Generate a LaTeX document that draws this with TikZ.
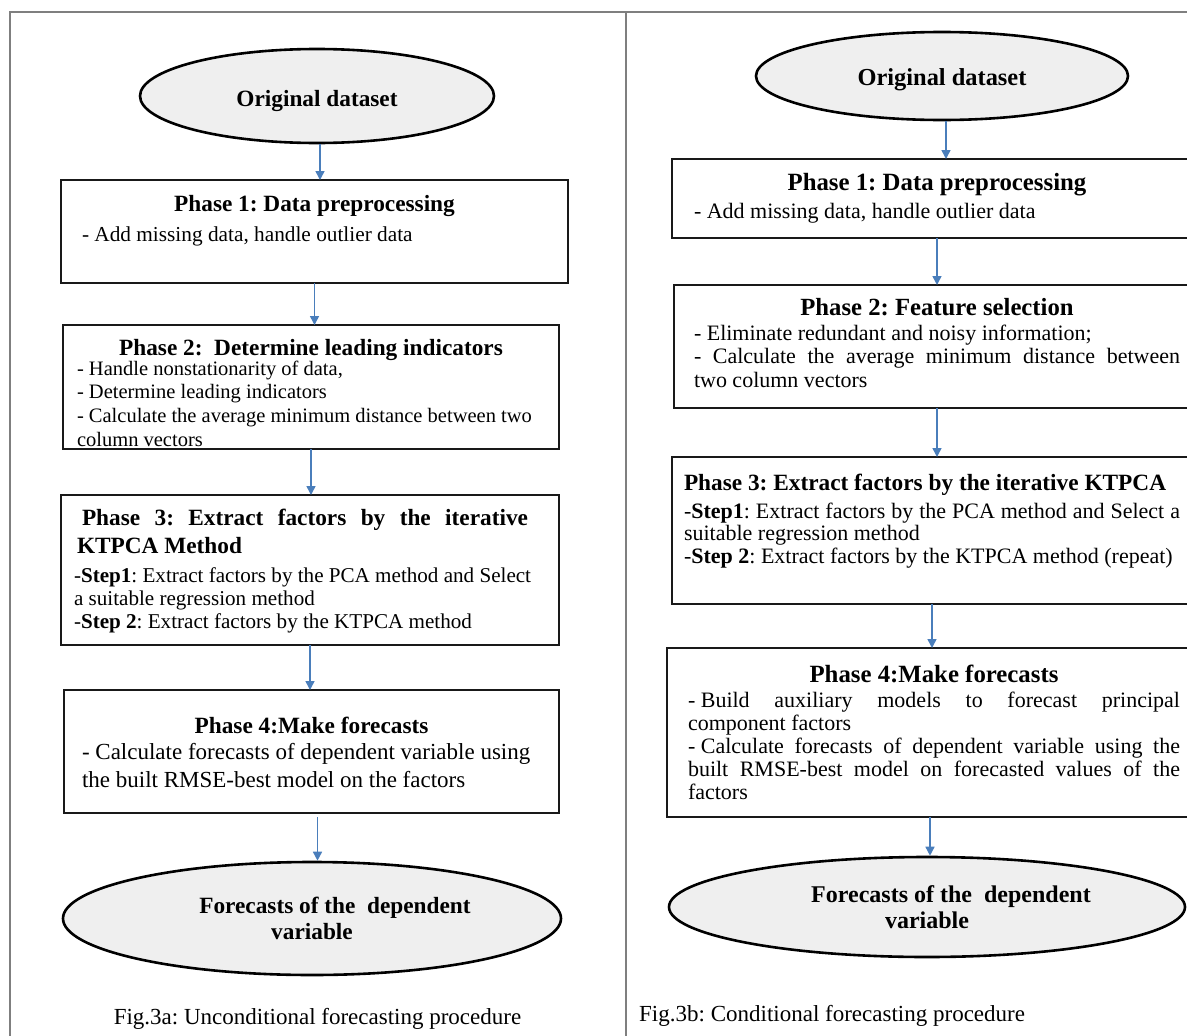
\documentclass[tikz,border=0pt]{standalone}
\usepackage{fontspec}
\setmainfont{Liberation Serif}
\frenchspacing
\usetikzlibrary{shapes.geometric,arrows.meta}
\definecolor{arrblue}{HTML}{4A7EBB}
\definecolor{framegray}{HTML}{7F7F7F}
\definecolor{ellfill}{HTML}{EFEFEF}
\newcommand\bxx[7]{\node[boxst,inner xsep=#6pt] (#1) at (#2,#3) {\begin{minipage}[t][#5pt][t]{\dimexpr#4pt-#6pt-#6pt\relax}\frenchspacing\setlength\parindent{0pt}\setlength\parskip{0pt}#7\end{minipage}};}
\newcommand\tfnt[1]{\fontsize{#1}{28}\selectfont\bfseries}
\newcommand\bfnt[2]{\fontsize{#1}{#2}\selectfont}
\tikzset{
  boxst/.style={draw=black!90, line width=2.4pt, inner ysep=0pt, anchor=north west, outer sep=0pt},
  ellst/.style={ellipse, draw=black, line width=2.6pt, fill=ellfill, inner sep=0pt, align=center},
  arr/.style={draw=arrblue, line width=1.5pt, -{Triangle[length=9pt,width=9pt]}},
  framest/.style={draw=framegray, line width=2pt},
  capst/.style={inner sep=0pt, font=\fontsize{23}{27}\selectfont}
}
\begin{document}
\begin{tikzpicture}[x=1pt,y=-1pt]
\useasboundingbox (0,0) rectangle (1187,1036);
\fill[white] (0,0) rectangle (1187,1036);
\begin{scope}
\clip (0,0) rectangle (1187,1036);
\draw[framest] (10,1045) -- (10,12) -- (1195,12);
\draw[framest] (626,12) -- (626,1045);

% ---------------- left panel ----------------
\node[ellst, minimum width=354pt, minimum height=94pt, font=\fontsize{23.3}{28}\selectfont\bfseries] (LE1) at (317,96) {\raisebox{-10pt}[0pt][0pt]{Original dataset}};

\bxx{L1}{61}{180}{507}{103}{21}{%
{\centering\tfnt{23.3}\rule{0pt}{31pt}Phase 1: Data preprocessing\par}
\vspace{6pt}
{\raggedright\bfnt{21.3}{24}- Add missing data, handle outlier data\par}}

\bxx{L2}{63}{325}{496}{124}{14}{%
{\centering\tfnt{23.3}\rule{0pt}{30pt}Phase 2:\ \ Determine leading indicators\par}
\vspace{-3.7pt}
{\raggedright\bfnt{20.5}{23.7}- Handle nonstationarity of data,\\- Determine leading indicators\\- Calculate the average minimum distance between two\\column vectors\par}}

\bxx{L3}{61}{495}{498}{150}{13}{%
{\tfnt{23.3}\rule{0pt}{30pt}\hspace*{8pt}\makebox[446pt][s]{Phase 3: Extract factors by the iterative}\par
\hspace*{3pt}KTPCA Method\par}
\vspace{6pt}
{\raggedright\bfnt{21.1}{23}-\textbf{Step1}: Extract factors by the PCA method and Select\\a suitable regression method\\-\textbf{Step 2}: Extract factors by the KTPCA method\par}}

\bxx{L4}{64}{690}{495}{123}{18}{%
{\centering\tfnt{23.3}\rule{0pt}{43pt}Phase 4:Make forecasts\par}
\vspace{-2pt}
{\raggedright\bfnt{23}{28}- Calculate forecasts of dependent variable using\\the built RMSE-best model on the factors\par}}

\node[ellst, minimum width=498pt, minimum height=113pt, font=\fontsize{23.3}{26}\selectfont\bfseries] (LE2) at (312,918.5) {\hspace*{46pt}Forecasts of the\ \ dependent\\variable};

\draw[arr] ([xshift=3pt]LE1.south) -- ([xshift=3pt]LE1.south |- L1.north);
\draw[arr] (L1.south) -- (L1.south |- L2.north);
\draw[arr] (L2.south) -- (L2.south |- L3.north);
\draw[arr] (L3.south) -- (L3.south |- L4.north);
\draw[arr] ([xshift=6pt,yshift=-4pt]L4.south) -- ([xshift=6pt]L4.south |- LE2.north);

\node[capst, anchor=base] (capL) at (317.5,1024) {Fig.3a: Unconditional forecasting procedure};

% ---------------- right panel ----------------
\node[ellst, minimum width=372pt, minimum height=88pt, font=\fontsize{24.4}{28}\selectfont\bfseries] (RE1) at (942,76) {\raisebox{-9pt}[0pt][0pt]{Original dataset}};

\bxx{R1}{672}{159}{530}{79}{22}{%
{\centering\tfnt{24.8}\rule{0pt}{31pt}Phase 1: Data preprocessing\par}
\vspace{4.6pt}
{\bfnt{22}{23.4}- Add missing data, handle outlier data\par}}

\bxx{R2}{674}{285}{526}{123}{20}{%
{\centering\tfnt{24.7}\rule{0pt}{30pt}Phase 2: Feature selection\par}
\vspace{1.5pt}
{\bfnt{22}{23.5}- Eliminate redundant and noisy information;\par
- Calculate the average minimum distance between\linebreak two column vectors\par}}

\bxx{R3}{672}{457}{520}{147}{12}{%
{\tfnt{23.3}\rule{0pt}{33pt}Phase 3: Extract factors by the iterative KTPCA\par}
\vspace{5.5pt}
{\bfnt{22}{22.5}-\textbf{Step1}: Extract factors by the PCA method and Select a\linebreak suitable regression method\par
-\textbf{Step 2}: Extract factors by the KTPCA method (repeat)\par}}

\bxx{R4}{667}{648}{534}{169}{21}{%
{\centering\tfnt{24.8}\rule{0pt}{34pt}Phase 4:Make forecasts\par}
\vspace{2pt}
{\bfnt{22}{23}\mbox{- Build} auxiliary models to forecast principal\linebreak component factors\par
\mbox{- Calculate} forecasts of dependent variable using the\linebreak built RMSE-best model on forecasted values of the\linebreak factors\par}}

\node[ellst, minimum width=516pt, minimum height=100pt, font=\fontsize{24}{26}\selectfont\bfseries] (RE2) at (927,907) {\hspace*{48pt}Forecasts of the\ \ dependent\\variable};

\draw[arr] ([xshift=4pt]RE1.south) -- ([xshift=4pt]RE1.south |- R1.north);
\draw[arr] (R1.south) -- (R1.south |- R2.north);
\draw[arr] (R2.south) -- (R2.south |- R3.north);
\draw[arr] (R3.south) -- (R3.south |- R4.north);
\draw[arr] ([xshift=-4pt]R4.south) -- ([xshift=-4pt]R4.south |- RE2.north);

\node[capst, anchor=base west] (capR) at (639,1021) {Fig.3b: Conditional forecasting procedure};
\end{scope}
\end{tikzpicture}
\end{document}
